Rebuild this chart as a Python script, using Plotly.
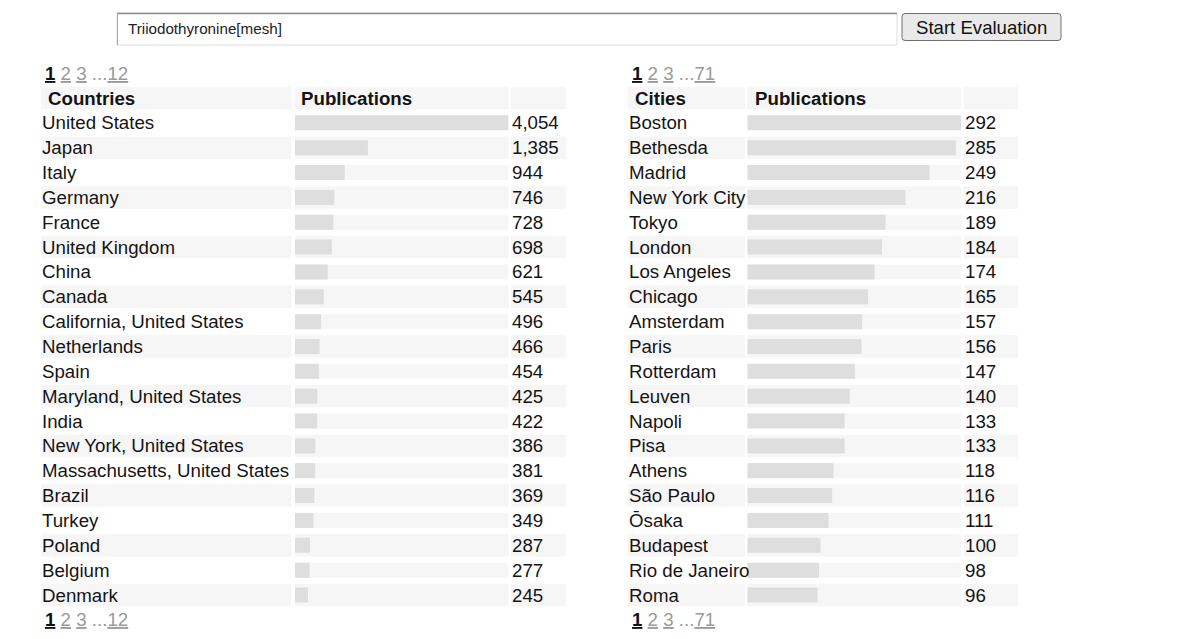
import plotly.graph_objects as go

# data
countries = ["United States", "Japan", "Italy", "Germany", "France", "United Kingdom",
             "China", "Canada", "California, United States", "Netherlands", "Spain",
             "Maryland, United States", "India", "New York, United States",
             "Massachusetts, United States", "Brazil", "Turkey", "Poland", "Belgium", "Denmark"]
country_pubs = [4054, 1385, 944, 746, 728, 698, 621, 545, 496, 466, 454, 425, 422, 386,
                381, 369, 349, 287, 277, 245]

cities = ["Boston", "Bethesda", "Madrid", "New York City", "Tokyo", "London", "Los Angeles",
          "Chicago", "Amsterdam", "Paris", "Rotterdam", "Leuven", "Napoli", "Pisa", "Athens",
          "São Paulo", "Ōsaka", "Budapest", "Rio de Janeiro", "Roma"]
city_pubs = [292, 285, 249, 216, 189, 184, 174, 165, 157, 156, 147, 140, 133, 133, 118,
             116, 111, 100, 98, 96]

query = "Triiodothyronine[mesh]"
button_label = "Start Evaluation"
country_pages = ["1", "2", "3", "12"]
city_pages = ["1", "2", "3", "71"]

PAGE_W, PAGE_H = 1189, 639
BODY = 8  # default body margin of the html page
W, H = PAGE_W - 2 * BODY, PAGE_H - 2 * BODY
FONT = "Liberation Sans, Arial, sans-serif"
TXT = "#141414"
BAR = "#dedede"
SHADE = "#f6f6f6"
PAGE_GREY = "#9a9a9a"
FS = 18.7

# row layout (page pixels): row r centred at ROW0 + PITCH * r, header is r = -1
ROW0, PITCH = 122.85, 24.85
HALF_CELL = 11.25 / PITCH
BAR_W = 15 / PITCH


def px(x):
    return (x - BODY) / W


def py(y):
    return 1 - (y - BODY) / H


# column edges in page pixels
left_cols = dict(name=(41, 291.5), bar=(295, 508.5), num=(511, 566))
right_cols = dict(name=(627.7, 745), bar=(747.3, 961), num=(964, 1018))

rows = list(range(len(countries)))

fig = go.Figure()

# background track behind each bar, then the bar itself
fig.add_trace(go.Bar(x=[max(country_pubs)] * len(rows), y=rows, orientation="h",
                     width=BAR_W, marker=dict(color=SHADE, line_width=0),
                     xaxis="x", yaxis="y", hoverinfo="skip"))
fig.add_trace(go.Bar(x=country_pubs, y=rows, orientation="h", width=BAR_W,
                     marker=dict(color=BAR, line_width=0), xaxis="x", yaxis="y",
                     hoverinfo="skip"))
fig.add_trace(go.Bar(x=[max(city_pubs)] * len(rows), y=rows, orientation="h",
                     width=BAR_W, marker=dict(color=SHADE, line_width=0),
                     xaxis="x2", yaxis="y", hoverinfo="skip"))
fig.add_trace(go.Bar(x=city_pubs, y=rows, orientation="h", width=BAR_W,
                     marker=dict(color=BAR, line_width=0), xaxis="x2", yaxis="y",
                     hoverinfo="skip"))

shapes = []
# zebra cells: header row and every second data row
for r in [-1] + [r for r in rows if r % 2 == 1]:
    for cols in (left_cols, right_cols):
        for x0, x1 in cols.values():
            shapes.append(dict(type="rect", xref="paper", yref="y", layer="below",
                               x0=px(x0), x1=px(x1), y0=r - HALF_CELL, y1=r + HALF_CELL,
                               fillcolor=SHADE, line_width=0))

# search box
shapes.append(dict(type="rect", xref="paper", yref="paper", x0=px(117), x1=px(897),
                   y0=py(45), y1=py(13), fillcolor="white", line=dict(color="#dcdcdc", width=1)))
shapes.append(dict(type="line", xref="paper", yref="paper", x0=px(117), x1=px(897),
                   y0=py(13.5), y1=py(13.5), line=dict(color="#8a8a8a", width=1.5)))
shapes.append(dict(type="line", xref="paper", yref="paper", x0=px(117.5), x1=px(117.5),
                   y0=py(45), y1=py(13), line=dict(color="#a8a8a8", width=1)))

# button with rounded corners
bx0, bx1, by0, by1, rad = 902, 1061, 13.5, 40.5, 3
path = (f"M {px(bx0 + rad)} {py(by0)} L {px(bx1 - rad)} {py(by0)} "
        f"Q {px(bx1)} {py(by0)} {px(bx1)} {py(by0 + rad)} L {px(bx1)} {py(by1 - rad)} "
        f"Q {px(bx1)} {py(by1)} {px(bx1 - rad)} {py(by1)} L {px(bx0 + rad)} {py(by1)} "
        f"Q {px(bx0)} {py(by1)} {px(bx0)} {py(by1 - rad)} L {px(bx0)} {py(by0 + rad)} "
        f"Q {px(bx0)} {py(by0)} {px(bx0 + rad)} {py(by0)} Z")
shapes.append(dict(type="path", xref="paper", yref="paper", path=path,
                   fillcolor="#e9e9e9", line=dict(color="#707070", width=1)))

annotations = []


def label(x, y, text, size=FS, color=TXT, yref="y", xanchor="left"):
    annotations.append(dict(x=px(x), y=y, xref="paper", yref=yref, text=text,
                            showarrow=False, xanchor=xanchor, yanchor="middle",
                            font=dict(family=FONT, size=size, color=color)))


for r, (name, v) in enumerate(zip(countries, country_pubs)):
    label(40, r, name)
    label(510, r, f"{v:,}")
for r, (name, v) in enumerate(zip(cities, city_pubs)):
    label(627, r, name)
    label(963, r, f"{v:,}")

label(46, -1, "<b>Countries</b>")
label(299, -1, "<b>Publications</b>")
label(633, -1, "<b>Cities</b>")
label(753, -1, "<b>Publications</b>")


def pager(pages):
    first = f"<span style='color:#111'><u><b>{pages[0]}</b></u></span>"
    mid = " ".join(f"<u>{p}</u>" for p in pages[1:-1])
    return f"{first} {mid} ...<u>{pages[-1]}</u>"


for row in (-2, len(rows)):
    label(43, row, pager(country_pages), color=PAGE_GREY)
    label(630, row, pager(city_pages), color=PAGE_GREY)

label(125.5, py(29), query, size=15.2, color="#222", yref="paper")
label(981.5, py(27.5), button_label, size=18.6, color="#111", yref="paper", xanchor="center")

axis_off = dict(visible=False, showgrid=False, zeroline=False, fixedrange=True)
fig.update_layout(
    width=W, height=H,
    margin=dict(l=0, r=0, t=0, b=0),
    paper_bgcolor="white", plot_bgcolor="rgba(0,0,0,0)",
    barmode="overlay", showlegend=False,
    xaxis=dict(domain=[px(295), px(508.5)], range=[0, max(country_pubs)], anchor="y", **axis_off),
    xaxis2=dict(domain=[px(747.3), px(961)], range=[0, max(city_pubs)], anchor="y", **axis_off),
    yaxis=dict(domain=[0, 1],
               range=[(PAGE_H - BODY - ROW0) / PITCH, (BODY - ROW0) / PITCH],
               anchor="x", **axis_off),
    shapes=shapes,
    annotations=annotations,
)

fig.write_html("out.html", config={"displayModeBar": False})
